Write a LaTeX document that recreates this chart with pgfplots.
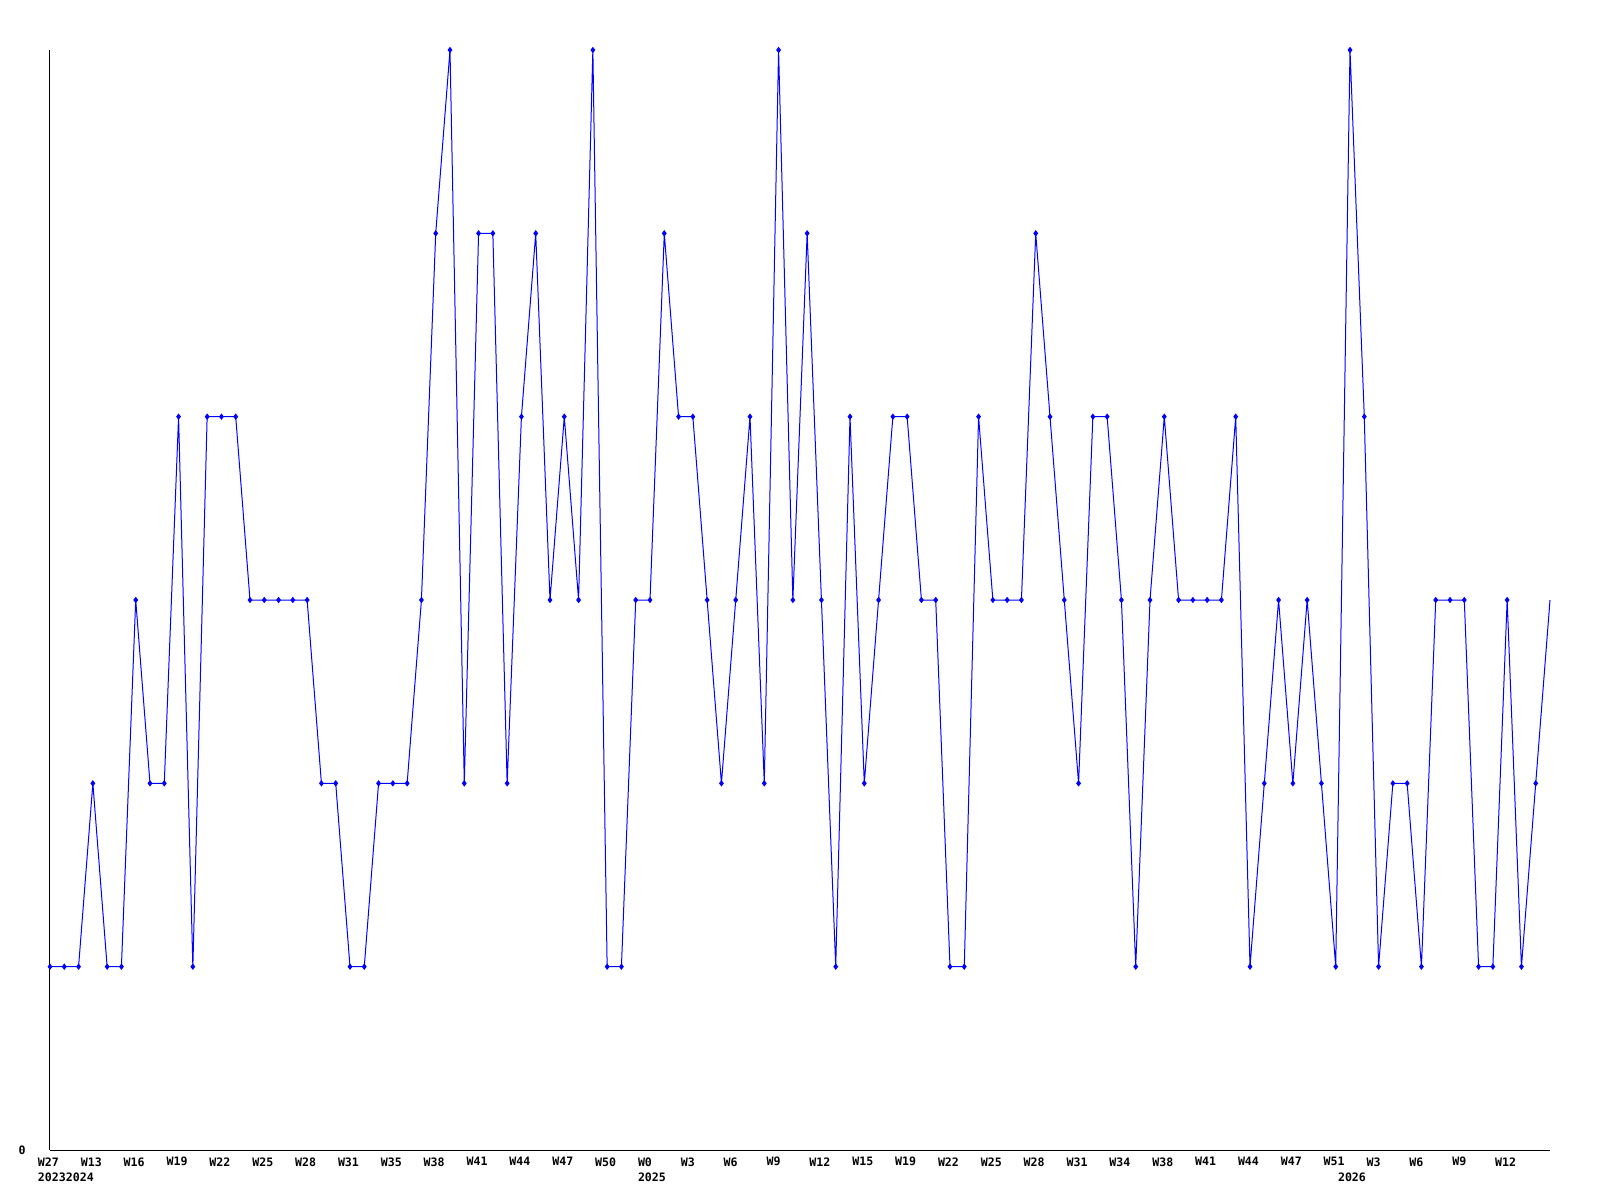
\documentclass[border=0pt]{standalone}
\usepackage{fontspec}
\setmonofont{DejaVu Sans Mono}
\usepackage{pgfplots}
\pgfplotsset{compat=1.18}
\begin{document}
\begin{tikzpicture}
\path[use as bounding box] (0,0) rectangle (800pt,600pt);
\begin{axis}[
  at={(25pt,25pt)}, anchor=south west,
  scale only axis, width=750pt, height=550pt,
  xmin=0, xmax=105, ymin=0, ymax=6,
  axis lines=left,
  axis line style={-, line width=0.5pt, black},
  clip=false,
  xtick={0,3,...,102},
  xticklabels={W27,W13,W16,W19,W22,W25,W28,W31,W35,W38,W41,W44,W47,W50,W0,W3,W6,W9,W12,W15,W19,W22,W25,W28,W31,W34,W38,W41,W44,W47,W51,W3,W6,W9,W12},
  extra x ticks={0,42,91},
  extra x tick labels={20232024,2025,2026},
  extra x tick style={grid=none, major tick length=0pt, xticklabel style={yshift=-7.5pt}},
  ytick={0}, yticklabels={0},
  major tick length=0pt,
  tick style={draw=none},
  ticklabel style={font=\ttfamily\bfseries\fontsize{5.8}{6.5}\selectfont, inner sep=0pt},
  xticklabel style={anchor=north west, xshift=-6.2pt, yshift=-3.5pt},
  yticklabel style={anchor=east, xshift=-12pt, yshift=0pt},
]
\addplot[blue, line width=0.5pt, mark=diamond*, mark size=1.2pt, mark options={blue, line width=0.5pt}, mark indices={1,...,105}] table[x=i, y=v] {
i v
0 1
1 1
2 1
3 2
4 1
5 1
6 3
7 2
8 2
9 4
10 1
11 4
12 4
13 4
14 3
15 3
16 3
17 3
18 3
19 2
20 2
21 1
22 1
23 2
24 2
25 2
26 3
27 5
28 6
29 2
30 5
31 5
32 2
33 4
34 5
35 3
36 4
37 3
38 6
39 1
40 1
41 3
42 3
43 5
44 4
45 4
46 3
47 2
48 3
49 4
50 2
51 6
52 3
53 5
54 3
55 1
56 4
57 2
58 3
59 4
60 4
61 3
62 3
63 1
64 1
65 4
66 3
67 3
68 3
69 5
70 4
71 3
72 2
73 4
74 4
75 3
76 1
77 3
78 4
79 3
80 3
81 3
82 3
83 4
84 1
85 2
86 3
87 2
88 3
89 2
90 1
91 6
92 4
93 1
94 2
95 2
96 1
97 3
98 3
99 3
100 1
101 1
102 3
103 1
104 2
105 3
};
\end{axis}
\end{tikzpicture}
\end{document}
